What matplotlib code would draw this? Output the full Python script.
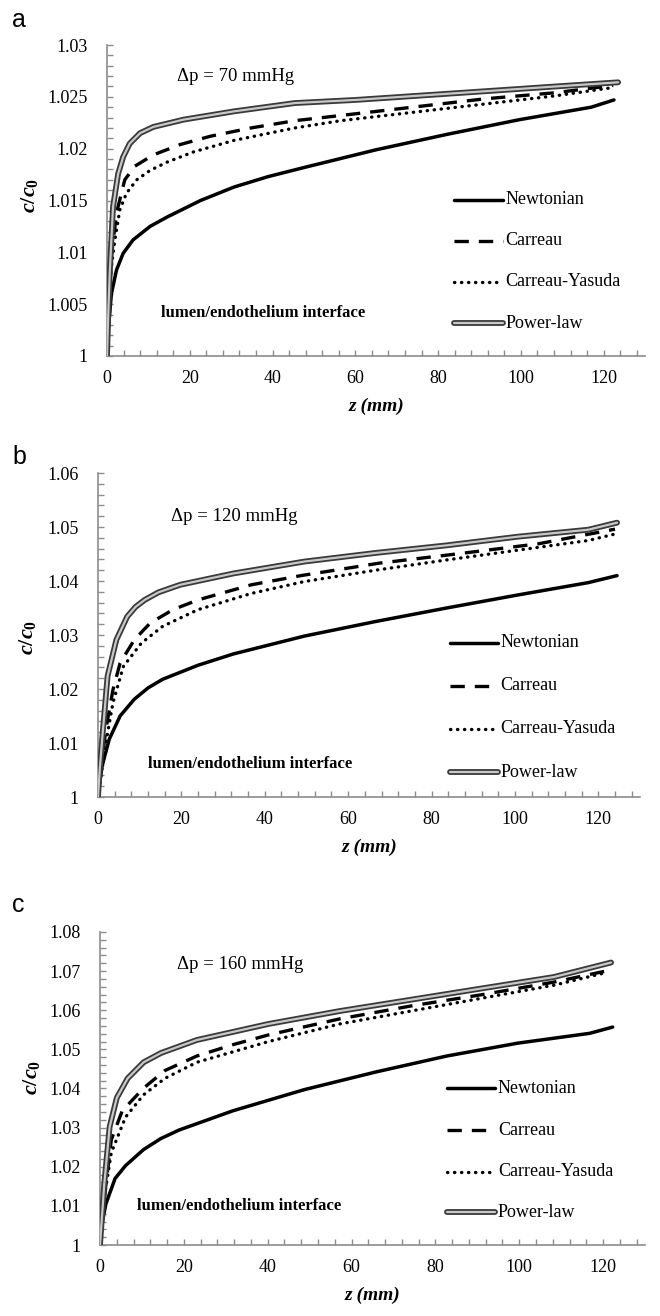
import matplotlib
matplotlib.use("Agg")
import matplotlib.pyplot as plt
import matplotlib.patheffects as pe
from matplotlib.ticker import MultipleLocator, FuncFormatter

plt.rcParams['font.family'] = ['Liberation Serif', 'DejaVu Serif']
plt.rcParams['mathtext.fontset'] = 'custom'
plt.rcParams['mathtext.it'] = 'Liberation Serif:italic:bold'
plt.rcParams['mathtext.rm'] = 'Liberation Serif:bold'

# ---------------- data ----------------
series_names = ["Newtonian", "Carreau", "Carreau-Yasuda", "Power-law"]
pressures = ["70", "120", "160"]
panel_letters = ["a", "b", "c"]

# panel a (70 mmHg)
zN_a = [0, 0.24, 1.06, 2.3, 3.9, 6.3, 10.4, 14.5, 22.6, 30.7, 38.9, 47.8, 65.1, 82.4, 99.7, 117.0, 122.5]
vN_a = [1.0, 1.0022, 1.0060, 1.0083, 1.0099, 1.0112, 1.0125, 1.0134, 1.0150, 1.0163, 1.0173, 1.0182, 1.0199, 1.0214, 1.0228, 1.0240, 1.0247]
zC_a = [0, 0.4, 1.06, 2.3, 4.3, 6.7, 11.2, 17.7, 25, 34.8, 45.4, 56.5, 73.8, 91.1, 108.4, 122.3]
vC_a = [1.0, 1.0040, 1.0096, 1.0138, 1.0170, 1.0183, 1.0194, 1.0204, 1.0212, 1.0220, 1.0227, 1.0232, 1.0240, 1.0248, 1.0254, 1.0261]
zY_a = [0, 0.3, 0.65, 1.9, 3.1, 4.7, 7.2, 10.4, 14.5, 21, 30.7, 45.4, 56.5, 73.8, 91.1, 108.4, 122.3]
vY_a = [1.0, 1.0035, 1.0073, 1.0112, 1.0141, 1.0157, 1.0170, 1.0179, 1.0187, 1.0197, 1.0208, 1.0220, 1.0227, 1.0235, 1.0243, 1.0251, 1.0259]
zP_a = [0, 0.3, 0.65, 1.46, 2.7, 3.9, 5.5, 8.0, 11.2, 18.5, 30.7, 45.4, 60, 82.4, 108.4, 123.5]
vP_a = [1.0, 1.0040, 1.0080, 1.0144, 1.0176, 1.0192, 1.0205, 1.0215, 1.0221, 1.0228, 1.0236, 1.0244, 1.0247, 1.0253, 1.0260, 1.0264]

# panel b (120 mmHg)
zN_b = [0, 0.2, 1.0, 2.7, 5.3, 8.7, 12, 15.5, 24, 32.5, 49.5, 66.6, 83.6, 100.6, 117.6, 124.5]
vN_b = [1.0, 1.0015, 1.0058, 1.0107, 1.0150, 1.0181, 1.0202, 1.0218, 1.0244, 1.0265, 1.0298, 1.0325, 1.0350, 1.0374, 1.0397, 1.0410]
zC_b = [0, 0.5, 1.9, 3.6, 5.3, 8.7, 12.5, 18, 24, 36.8, 48.7, 67.4, 87, 105.7, 124]
vC_b = [1.0, 1.0040, 1.0126, 1.0199, 1.0248, 1.0291, 1.0322, 1.0347, 1.0365, 1.0393, 1.0410, 1.0433, 1.0451, 1.0469, 1.0496]
zY_b = [0, 0.5, 1.9, 3.6, 6.1, 10.4, 15.5, 24, 36.8, 49.5, 66.6, 83.6, 100.6, 117.6, 124]
vY_b = [1.0, 1.0030, 1.0101, 1.0175, 1.0242, 1.0285, 1.0316, 1.0347, 1.0377, 1.0399, 1.0420, 1.0439, 1.0457, 1.0475, 1.0487]
zP_b = [0, 0.4, 1.0, 2.3, 4.4, 7.0, 9.0, 11.2, 14.5, 19.7, 32.5, 49.5, 66.6, 83.6, 100.6, 117.6, 124.5]
vP_b = [1.0, 1.0050, 1.0107, 1.0224, 1.0291, 1.0334, 1.0352, 1.0365, 1.0379, 1.0393, 1.0414, 1.0436, 1.0452, 1.0466, 1.0482, 1.0495, 1.0508]

# panel c (160 mmHg)
zN_c = [0, 0.2, 1.4, 3.6, 6.1, 10.4, 14.5, 18.9, 31.7, 48.7, 65.7, 82.7, 99.7, 116.8, 122.3]
vN_c = [1.0, 1.0039, 1.0105, 1.0170, 1.0203, 1.0244, 1.0272, 1.0294, 1.0343, 1.0397, 1.0442, 1.0483, 1.0516, 1.0541, 1.0557]
zC_c = [0, 1.4, 2.7, 5.3, 10.4, 15.5, 23.1, 31.7, 40.2, 57.2, 74.2, 91.2, 108.3, 121]
vC_c = [1.0, 1.0154, 1.0269, 1.0343, 1.0401, 1.0446, 1.0483, 1.0512, 1.0537, 1.0578, 1.0611, 1.0640, 1.0672, 1.0701]
zY_c = [0, 1.0, 2.7, 6.1, 10.4, 15.5, 23.1, 40.2, 57.2, 74.2, 91.2, 108.3, 121]
vY_c = [1.0, 1.0121, 1.0236, 1.0327, 1.0384, 1.0426, 1.0467, 1.0520, 1.0565, 1.0598, 1.0631, 1.0664, 1.0697]
zP_c = [0, 1.0, 2.3, 4.0, 6.6, 10.4, 14.6, 23.1, 40.2, 57.2, 74.2, 91.2, 108.3, 121.9]
vP_c = [1.0, 1.0154, 1.0302, 1.0376, 1.0426, 1.0467, 1.0491, 1.0524, 1.0565, 1.0598, 1.0627, 1.0656, 1.0685, 1.0722]

y_limits = [(1.0, 1.03), (1.0, 1.06), (1.0, 1.08)]
y_major = [0.005, 0.01, 0.01]
y_minor = [0.001, 0.002, 0.002]
x_limits = (0, 130)

panels = [
    [(zN_a, vN_a), (zC_a, vC_a), (zY_a, vY_a), (zP_a, vP_a)],
    [(zN_b, vN_b), (zC_b, vC_b), (zY_b, vY_b), (zP_b, vP_b)],
    [(zN_c, vN_c), (zC_c, vC_c), (zY_c, vY_c), (zP_c, vP_c)],
]

# ---------------- layout (pixels) ----------------
W, H = 660, 1316
fig = plt.figure(figsize=(W / 100, H / 100), dpi=100)

def rect(left, top, right, bottom):
    return [left / W, 1 - bottom / H, (right - left) / W, (bottom - top) / H]

axes_px = [(107, 45, 645, 356), (98, 473, 640, 797), (100, 932, 645, 1245)]
letter_px = [(12, 20), (12, 457), (12, 905)]
ylab_px = [(30, 195), (28, 637), (32, 1077)]
legend_pos = [  # x handle start, end, text x, rows y (axes fraction)
    (0.645, 0.736, 0.741, [0.503, 0.370, 0.238, 0.106]),
    (0.650, 0.738, 0.743, [0.476, 0.343, 0.210, 0.077]),
    (0.637, 0.725, 0.730, [0.501, 0.367, 0.234, 0.105]),
]
dp_pos = [(0.13, 0.90), (0.134, 0.866), (0.142, 0.897)]
lumen_pos = [(0.0995, 0.138), (0.093, 0.102), (0.067, 0.126)]

axis_gray = '#8c8c8c'

def style_kwargs(i):
    if i == 0:
        return dict(color='black', lw=2.5, solid_capstyle='round')
    if i == 1:
        return dict(color='black', lw=2.4, linestyle=(0, (4.3, 3.0)), dash_capstyle='butt')
    if i == 2:
        return dict(color='black', lw=2.4, linestyle=(0, (0.1, 2.0)), dash_capstyle='round')
    return dict(color='#c8c8c8', lw=1.6, solid_capstyle='round',
                path_effects=[pe.Stroke(linewidth=4.2, foreground='#3a3a3a'), pe.Normal()])

def fmt(v, pos):
    return ('%.3f' % v).rstrip('0').rstrip('.')

for k in range(3):
    ax = fig.add_axes(rect(*axes_px[k]))
    for i in [0, 2, 1, 3]:
        z, v = panels[k][i]
        ax.plot(z, v, **style_kwargs(i), zorder=3 + i)
    ax.set_xlim(*x_limits)
    ax.set_ylim(*y_limits[k])
    ax.xaxis.set_major_locator(MultipleLocator(20))
    ax.xaxis.set_minor_locator(MultipleLocator(4))
    ax.yaxis.set_major_locator(MultipleLocator(y_major[k]))
    ax.yaxis.set_minor_locator(MultipleLocator(y_minor[k]))
    ax.yaxis.set_major_formatter(FuncFormatter(fmt))
    for s in ['top', 'right']:
        ax.spines[s].set_visible(False)
    for s in ['left', 'bottom']:
        ax.spines[s].set_color(axis_gray)
        ax.spines[s].set_linewidth(1.2)
    ax.tick_params(which='both', direction='in', color=axis_gray, width=1.0, length=4)
    ax.tick_params(axis='y', which='major', labelsize=13, pad=14)
    ax.tick_params(axis='x', which='major', labelsize=13, pad=10)
    ax.set_xlabel('z (mm)', fontsize=14, fontweight='bold', fontstyle='italic', labelpad=8)
    ax.patch.set_alpha(0)

    fig.text(ylab_px[k][0] / W, 1 - ylab_px[k][1] / H, r'$c/c_0$', rotation=90,
             fontsize=16, ha='center', va='center')
    fig.text(letter_px[k][0] / W, 1 - letter_px[k][1] / H, panel_letters[k],
             family=['Liberation Sans', 'DejaVu Sans'], fontsize=18, ha='left', va='center')

    x0, x1, xt, rows = legend_pos[k]
    for i in range(4):
        ax.plot([x0, x1], [rows[i], rows[i]], transform=ax.transAxes, clip_on=False,
                **style_kwargs(i), zorder=10)
        ax.text(xt, rows[i], series_names[i], transform=ax.transAxes, fontsize=13,
                ha='left', va='center')

    ax.text(dp_pos[k][0], dp_pos[k][1], '\u0394p = %s mmHg' % pressures[k],
            transform=ax.transAxes, fontsize=13.5, ha='left', va='center')
    ax.text(lumen_pos[k][0], lumen_pos[k][1], 'lumen/endothelium interface',
            transform=ax.transAxes, fontsize=12, fontweight='bold', ha='left', va='center')

fig.savefig('out.png', dpi=100)
